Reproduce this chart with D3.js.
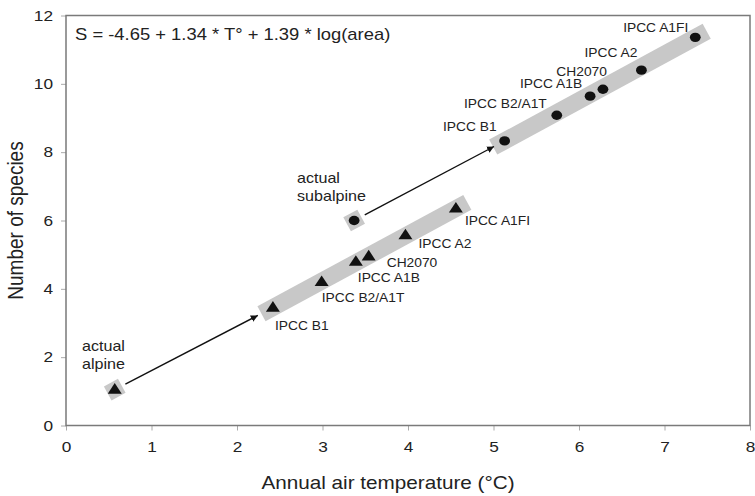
<!DOCTYPE html>
<html>
<head>
<meta charset="utf-8">
<script src="https://cdn.jsdelivr.net/npm/d3@7"></script>
<style>
  body { margin: 0; background: #fff; }
  text { font-family: "Liberation Sans", Arial, sans-serif; fill: #222; }
</style>
</head>
<body>
<div id="chart"></div>
<script>
// scenarios, same order for both groups
var scenarios = ["actual", "IPCC B1", "IPCC B2/A1T", "IPCC A1B", "CH2070", "IPCC A2", "IPCC A1FI"];

// alpine (triangles)
var alpineTemp    = [0.57, 2.42, 2.99, 3.39, 3.54, 3.97, 4.56];
var alpineSpecies = [1.05, 3.45, 4.20, 4.79, 4.95, 5.57, 6.35];

// subalpine (circles)
var subalpineTemp    = [3.37, 5.13, 5.74, 6.13, 6.28, 6.73, 7.36];
var subalpineSpecies = [6.00, 8.33, 9.08, 9.64, 9.84, 10.40, 11.36];

var xTicks = [0, 1, 2, 3, 4, 5, 6, 7, 8];
var yTicks = [0, 2, 4, 6, 8, 10, 12];

var equation = "S = -4.65 + 1.34 * T\u00b0 + 1.39 * log(area)";

// label offsets in px (layout only), index 1..6 are the scenarios
var alpineLabelPos    = [null, [2, 22], [0, 20], [2, 20], [18, 11], [13, 13], [9, 16]];
var subalpineLabelPos = [null, [-8, -10], [-10, -7], [-8, -8], [4, -13], [-4, -13], [-7, -5]];

var W = 755, H = 496;
var margin = {left: 66, top: 15.5, right: 5, bottom: 70.5};
var w = W - margin.left - margin.right,
    h = H - margin.top - margin.bottom;
var sx = 1.15; // the original figure is slightly stretched horizontally

var svg = d3.select("#chart").append("svg")
  .attr("width", W)
  .attr("height", H);

var g = svg.append("g")
  .attr("transform", "translate(" + margin.left + "," + margin.top + ")");

var x = d3.scaleLinear().domain([0, 8]).range([0, w]),
    y = d3.scaleLinear().domain([0, 12]).range([h, 0]);

function pts(t, s){
  return t.map(function(d, i){ return {name: scenarios[i], t: d, s: s[i], px: x(d), py: y(s[i])}; });
}
var alpine = pts(alpineTemp, alpineSpecies);
var subalpine = pts(subalpineTemp, subalpineSpecies);

// axes
var xAxis = g.append("g")
  .attr("class", "axis xAxis")
  .attr("transform", "translate(0," + h + ")")
  .call(d3.axisBottom(x).tickValues(xTicks).tickSize(5).tickPadding(11));

var yAxis = g.append("g")
  .attr("class", "axis yAxis")
  .call(d3.axisLeft(y).tickValues(yTicks).tickSize(5).tickPadding(8));

g.selectAll(".axis .domain").remove();
g.selectAll(".axis line").attr("stroke", "#aaa");
g.selectAll(".axis text")
  .style("font-size", "15px")
  .style("font-family", "'Liberation Sans', Arial, sans-serif")
  .attr("fill", "#222");
xAxis.selectAll("text").attr("transform", "scale(" + sx + ",1)");
yAxis.selectAll("text")
  .attr("x", -13 / sx)
  .attr("transform", "scale(" + sx + ",1)");

// frame
g.append("rect")
  .attr("width", w).attr("height", h)
  .attr("fill", "none")
  .attr("stroke", "#7a7a7a")
  .attr("stroke-width", 1.5);

// gray bands behind the scenario points
function band(data, ext){
  var a = data[1], b = data[data.length - 1];
  var dx = b.px - a.px, dy = b.py - a.py, len = Math.sqrt(dx*dx + dy*dy);
  var ux = dx / len, uy = dy / len;
  g.append("line")
    .attr("x1", a.px - ux*ext).attr("y1", a.py - uy*ext)
    .attr("x2", b.px + ux*ext).attr("y2", b.py + uy*ext)
    .attr("stroke", "#c8c8c8")
    .attr("stroke-width", 17);
  // small square behind the actual point
  var ang = Math.atan2(dy, dx) * 180 / Math.PI;
  g.append("rect")
    .attr("x", -8).attr("y", -8).attr("width", 16).attr("height", 16)
    .attr("fill", "#c8c8c8")
    .attr("transform", "translate(" + data[0].px + "," + data[0].py + ") rotate(" + ang + ")");
}
band(alpine, 13);
band(subalpine, 13);

// arrows actual -> first scenario
svg.append("defs").append("marker")
  .attr("id", "arrow")
  .attr("viewBox", "0 0 10 10")
  .attr("refX", 10).attr("refY", 5)
  .attr("markerWidth", 7).attr("markerHeight", 7)
  .attr("markerUnits", "userSpaceOnUse")
  .attr("orient", "auto")
  .append("path")
  .attr("d", "M0,0L10,5L0,10Z")
  .attr("fill", "#111");

function arrow(data, trimStart, trimEnd){
  var a = data[0], b = data[1];
  var dx = b.px - a.px, dy = b.py - a.py, len = Math.sqrt(dx*dx + dy*dy);
  var ux = dx / len, uy = dy / len;
  g.append("line")
    .attr("x1", a.px + ux*trimStart).attr("y1", a.py + uy*trimStart)
    .attr("x2", b.px - ux*trimEnd).attr("y2", b.py - uy*trimEnd)
    .attr("stroke", "#111")
    .attr("stroke-width", 1.4)
    .attr("marker-end", "url(#arrow)");
}
arrow(alpine, 12, 17);
arrow(subalpine, 12, 12);

// markers
var tri = d3.symbol().type(d3.symbolTriangle).size(64);
g.selectAll(".tri")
  .data(alpine)
  .enter().append("path")
  .attr("class", "tri")
  .attr("d", tri)
  .attr("fill", "#111")
  .attr("transform", function(d){ return "translate(" + d.px + "," + (d.py + 0.5) + ") scale(" + sx + ",1)"; });

g.selectAll(".dot")
  .data(subalpine)
  .enter().append("ellipse")
  .attr("class", "dot")
  .attr("cx", function(d){ return d.px; })
  .attr("cy", function(d){ return d.py; })
  .attr("rx", 4.7 * sx)
  .attr("ry", 4.7)
  .attr("fill", "#111");

// helper for stretched text
function label(txt, px, py, size, anchor){
  return svg.append("text")
    .attr("transform", "translate(" + px + "," + py + ") scale(" + sx + ",1)")
    .attr("text-anchor", anchor || "start")
    .style("font-size", size + "px")
    .text(txt);
}

// scenario labels
alpine.forEach(function(d, i){
  if (i === 0) return;
  var o = alpineLabelPos[i];
  label(d.name, margin.left + d.px + o[0], margin.top + d.py + o[1], 12, "start");
});
subalpine.forEach(function(d, i){
  if (i === 0) return;
  var o = subalpineLabelPos[i];
  label(d.name, margin.left + d.px + o[0], margin.top + d.py + o[1], 12, "end");
});

// actual labels
label("actual", 82, 351, 14);
label("alpine", 82, 369, 14);
label("actual", 297, 183, 14);
label("subalpine", 297, 201, 14);

// equation
label(equation, 75, 40, 16);

// axis titles
label("Annual air temperature (\u00b0C)", margin.left + w/2 - 20, 489, 18, "middle");
svg.append("text")
  .attr("transform", "translate(23," + (margin.top + h/2) + ") scale(" + sx + ",1) rotate(-90)")
  .attr("text-anchor", "middle")
  .style("font-size", "19px")
  .text("Number of species");
</script>
</body>
</html>
